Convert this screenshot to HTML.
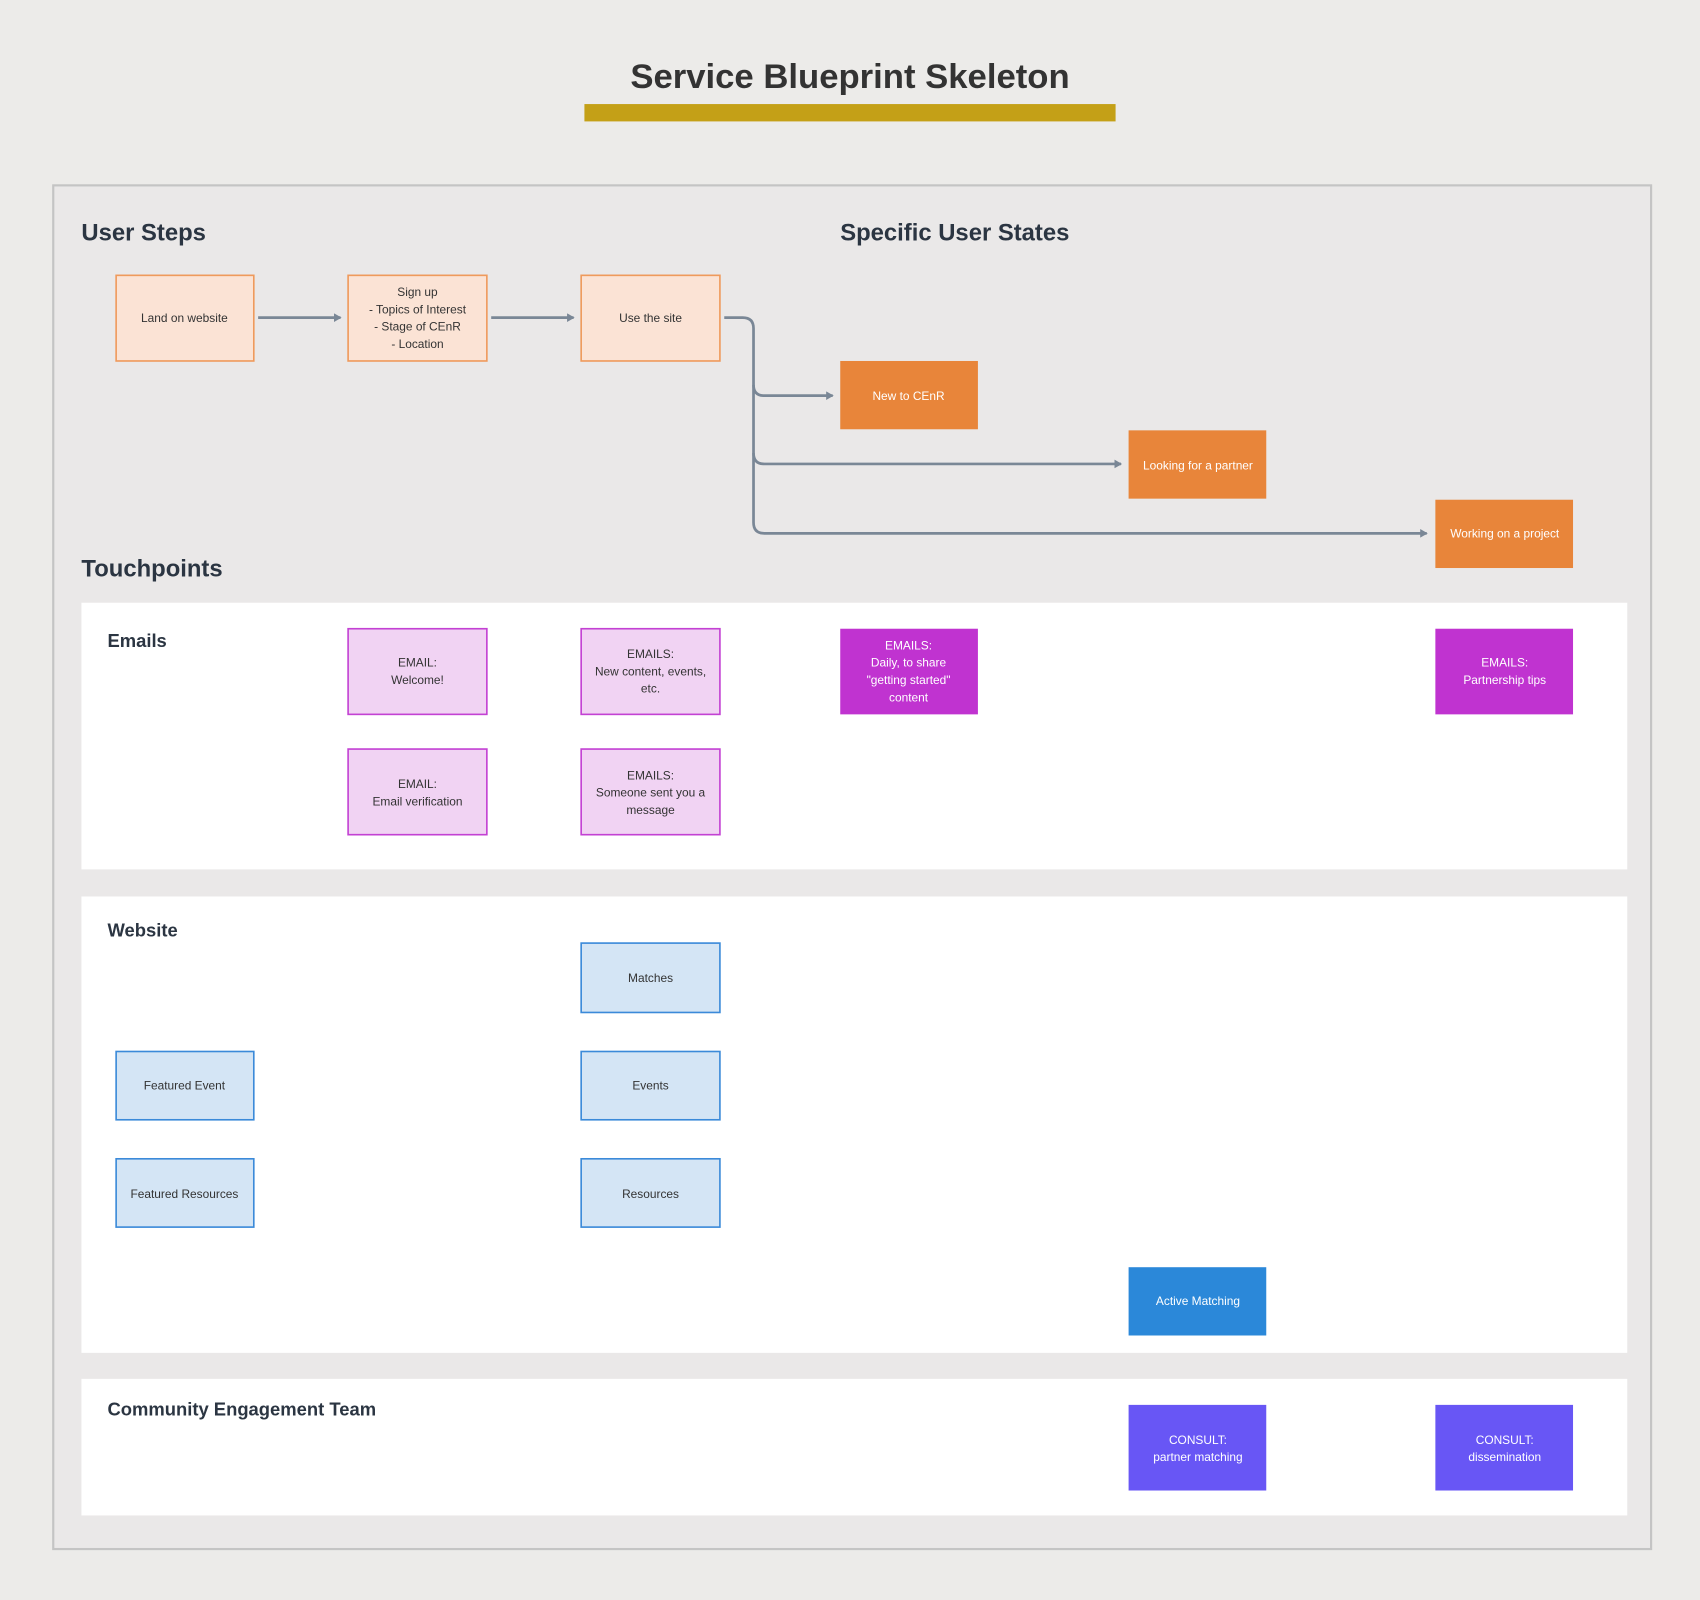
<!DOCTYPE html>
<html><head><meta charset="utf-8"><style>
html,body{margin:0;padding:0;background:#ecebe9;}
svg{display:block}
text{font-family:"Liberation Sans",sans-serif;}
</style></head><body>
<svg width="1700" height="1600" viewBox="0 0 1568 1476" xmlns="http://www.w3.org/2000/svg">
<defs><marker id="a" markerWidth="8" markerHeight="8" refX="6" refY="4" orient="auto" markerUnits="userSpaceOnUse"><path d="M0,0 L7,4 L0,8 Z" fill="#7a8796"/></marker></defs>
<rect width="1568" height="1476" fill="#ecebe9"/>
<text x="784" y="81" text-anchor="middle" font-size="32" font-weight="bold" fill="#333">Service Blueprint Skeleton</text>
<rect x="539" y="96" width="490" height="16" fill="#c4a017"/>
<rect x="49" y="171" width="1474" height="1258" fill="#eae8e8" stroke="#c4c4c4" stroke-width="2"/>
<g font-size="22" font-weight="bold" fill="#2b3542">
<text x="75" y="222">User Steps</text>
<text x="775" y="222">Specific User States</text>
<text x="75" y="532">Touchpoints</text>
</g>
<rect x="75" y="556" width="1426" height="246" fill="#fff"/>
<rect x="75" y="827" width="1426" height="421" fill="#fff"/>
<rect x="75" y="1272" width="1426" height="126" fill="#fff"/>
<g font-size="17" font-weight="bold" fill="#2b3542">
<text x="99" y="597">Emails</text>
<text x="99" y="864">Website</text>
<text x="99" y="1306">Community Engagement Team</text>
</g>
<g fill="none" stroke="#7a8796" stroke-width="2.5">
<path d="M238,293 H314" marker-end="url(#a)"/>
<path d="M453,293 H529" marker-end="url(#a)"/>
<path d="M668,293 H685 Q695,293 695,303 V355 Q695,365 705,365 H768" marker-end="url(#a)"/>
<path d="M695,355 V418 Q695,428 705,428 H1034" marker-end="url(#a)"/>
<path d="M695,418 V482 Q695,492 705,492 H1316" marker-end="url(#a)"/>
</g>
<g stroke-width="1.5" font-size="11" text-anchor="middle">
<g fill="#fbe3d5" stroke="#ef9a5c">
<rect x="107" y="254" width="127" height="79"/><rect x="321" y="254" width="128" height="79"/><rect x="536" y="254" width="128" height="79"/>
</g>
<g fill="#333" stroke="none">
<text x="170" y="297">Land on website</text>
<text x="385" y="273">Sign up</text><text x="385" y="289">- Topics of Interest</text><text x="385" y="305">- Stage of CEnR</text><text x="385" y="321">- Location</text>
<text x="600" y="297">Use the site</text>
</g>
<g fill="#e8853a" stroke="none">
<rect x="775" y="333" width="127" height="63"/><rect x="1041" y="397" width="127" height="63"/><rect x="1324" y="461" width="127" height="63"/>
</g>
<g fill="#fff" stroke="none">
<text x="838" y="369">New to CEnR</text><text x="1105" y="433">Looking for a partner</text><text x="1388" y="496">Working on a project</text>
</g>
<g fill="#f1d3f3" stroke="#c341d3">
<rect x="321" y="580" width="128" height="79"/><rect x="536" y="580" width="128" height="79"/><rect x="321" y="691" width="128" height="79"/><rect x="536" y="691" width="128" height="79"/>
</g>
<g fill="#333" stroke="none">
<text x="385" y="615">EMAIL:</text><text x="385" y="631">Welcome!</text>
<text x="600" y="607">EMAILS:</text><text x="600" y="623">New content, events,</text><text x="600" y="639">etc.</text>
<text x="385" y="727">EMAIL:</text><text x="385" y="743">Email verification</text>
<text x="600" y="719">EMAILS:</text><text x="600" y="735">Someone sent you a</text><text x="600" y="751">message</text>
</g>
<g fill="#c033d0" stroke="none">
<rect x="775" y="580" width="127" height="79"/><rect x="1324" y="580" width="127" height="79"/>
</g>
<g fill="#fff" stroke="none">
<text x="838" y="599">EMAILS:</text><text x="838" y="615">Daily, to share</text><text x="838" y="631">"getting started"</text><text x="838" y="647">content</text>
<text x="1388" y="615">EMAILS:</text><text x="1388" y="631">Partnership tips</text>
</g>
<g fill="#d4e5f5" stroke="#3b8ad9">
<rect x="536" y="870" width="128" height="64"/><rect x="107" y="970" width="127" height="63"/><rect x="536" y="970" width="128" height="63"/><rect x="107" y="1069" width="127" height="63"/><rect x="536" y="1069" width="128" height="63"/>
</g>
<g fill="#333" stroke="none">
<text x="600" y="906">Matches</text><text x="170" y="1005">Featured Event</text><text x="600" y="1005">Events</text><text x="170" y="1105">Featured Resources</text><text x="600" y="1105">Resources</text>
</g>
<rect x="1041" y="1169" width="127" height="63" fill="#2b88d9" stroke="none"/>
<text x="1105" y="1204" fill="#fff" stroke="none">Active Matching</text>
<g fill="#6856f5" stroke="none">
<rect x="1041" y="1296" width="127" height="79"/><rect x="1324" y="1296" width="127" height="79"/>
</g>
<g fill="#fff" stroke="none">
<text x="1105" y="1332">CONSULT:</text><text x="1105" y="1348">partner matching</text>
<text x="1388" y="1332">CONSULT:</text><text x="1388" y="1348">dissemination</text>
</g>
</g>
</svg>
</body></html>
